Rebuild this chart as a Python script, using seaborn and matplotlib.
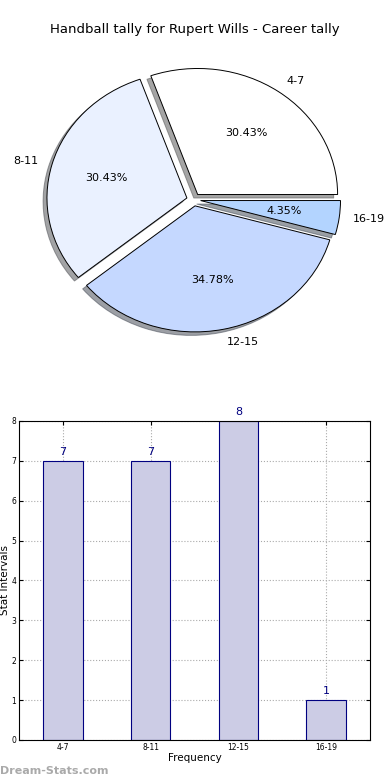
import matplotlib
matplotlib.use("Agg")
import matplotlib.pyplot as plt
import seaborn as sns

sns.set_style("white")
plt.rcParams['font.family'] = ['DejaVu Sans']
plt.rcParams['text.color'] = 'black'
plt.rcParams['axes.labelcolor'] = 'black'
plt.rcParams['xtick.color'] = 'black'
plt.rcParams['ytick.color'] = 'black'

# data
intervals = ['4-7', '8-11', '12-15', '16-19']
counts = [7, 7, 8, 1]
pie_colors = ['#ffffff', '#eaf1ff', '#c5d8ff', '#b3d4ff']
bar_face = '#cccce5'

fig = plt.figure(figsize=(3.9, 7.8), dpi=100)

# pie
ax1 = fig.add_axes([0.048, 0.542, 0.897, 0.404])
ax1.pie(counts, labels=intervals, colors=pie_colors, autopct='%1.2f%%',
        explode=[0.05] * 4, shadow=True, startangle=0, counterclock=True,
        wedgeprops={'edgecolor': 'black', 'linewidth': 0.7},
        textprops={'fontsize': 8, 'color': 'black'}, pctdistance=0.6,
        labeldistance=1.1)
ax1.set_aspect('auto')
ax1.set_xlim(-1.25, 1.25)
ax1.set_ylim(-1.25, 1.25)
fig.text(0.5, 0.962, 'Handball tally for Rupert Wills - Career tally',
         ha='center', va='center', fontsize=9.5)

# bars
ax2 = fig.add_axes([0.049, 0.0513, 0.9, 0.409])
sns.barplot(x=intervals, y=counts, ax=ax2, color=bar_face, saturation=1,
            edgecolor='#000080', linewidth=0.8, width=0.45)
for i, v in enumerate(counts):
    ax2.text(i, v + 0.1, str(v), ha='center', va='bottom',
             color='#000080', fontsize=8)
ax2.set_ylim(0, 8)
ax2.set_xlim(-0.5, 3.5)
ax2.grid(True, linestyle=':', color='#aaaaaa', linewidth=0.8)
ax2.set_axisbelow(True)
for s in ax2.spines.values():
    s.set_color('black')
    s.set_linewidth(0.8)
ax2.tick_params(axis='both', labelsize=5.5, direction='in', length=3,
                top=True, right=True, left=True, bottom=True, pad=2)
ax2.set_xlabel('Frequency', fontsize=7.5, labelpad=1)
ax2.set_ylabel('Stat Intervals', fontsize=7.5, labelpad=1)
ax2.yaxis.set_label_coords(-0.026, 0.5)

fig.text(0.0, 0.012, 'Dream-Stats.com', color='#aaaaaa', fontsize=8,
         fontweight='bold', ha='left', va='center')

fig.savefig('out.png', dpi=100)
